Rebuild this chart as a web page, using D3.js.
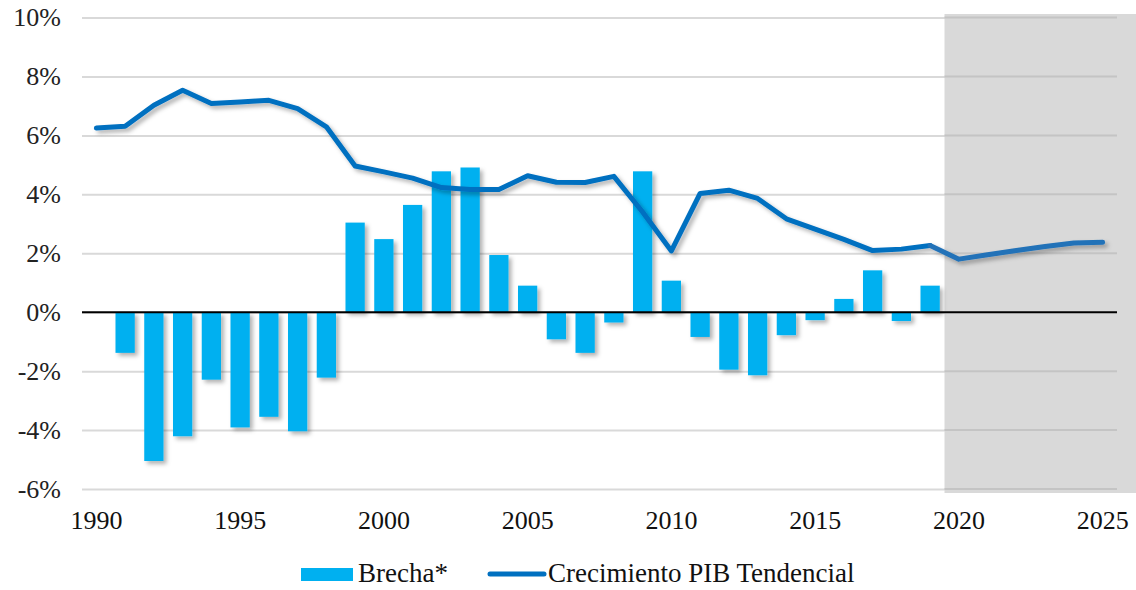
<!DOCTYPE html>
<html>
<head>
<meta charset="utf-8">
<script src="https://cdn.jsdelivr.net/npm/d3@7"></script>
<style>
  html, body { margin: 0; padding: 0; background: #fff; }
  svg { display: block; }
  svg text { font-family: "Liberation Serif", "Tinos", "Times New Roman", "DejaVu Serif", "Noto Serif", serif; }
</style>
</head>
<body>
<svg width="1136" height="590"></svg>
<script>
// years on the category axis
const years = d3.range(1990, 2026);
// Brecha* (bars), 1990..2019 (null = no bar)
const brecha = [null, -1.38, -5.05, -4.21, -2.29, -3.91, -3.55, -4.04, -2.22, 3.04,
  2.48, 3.64, 4.78, 4.91, 1.94, 0.90, -0.92, -1.38, -0.35, 4.78,
  1.07, -0.84, -1.95, -2.14, -0.78, -0.27, 0.45, 1.42, -0.30, 0.90];
// Crecimiento PIB Tendencial (line), 1990..2025
const tendencial = [6.25, 6.31, 7.02, 7.53, 7.08, 7.13, 7.19, 6.91, 6.29, 4.96,
  4.76, 4.55, 4.23, 4.16, 4.16, 4.63, 4.41, 4.40, 4.61, 3.40,
  2.08, 4.03, 4.14, 3.86, 3.17, 2.82, 2.47, 2.09, 2.14, 2.26,
  1.80, 1.95, 2.09, 2.23, 2.35, 2.37];
const yTicks = [-6, -4, -2, 0, 2, 4, 6, 8, 10];
const xLabels = [1990, 1995, 2000, 2005, 2010, 2015, 2020, 2025];
const forecastStart = 2020;

const svg = d3.select('svg');
const defs = svg.append('defs');
defs.append('filter')
    .attr('id', 'shadow')
    .attr('x', '-20%').attr('y', '-20%')
    .attr('width', '150%').attr('height', '150%')
  .append('feDropShadow')
    .attr('dx', 3).attr('dy', 3)
    .attr('stdDeviation', 2)
    .attr('flood-color', '#000')
    .attr('flood-opacity', 0.3);

const x = d3.scaleBand()
    .domain(years)
    .range([82, 1117])
    .paddingInner(0.33)
    .paddingOuter(0.165);
const xc = d => x(d) + x.bandwidth() / 2;
const step = x.step();

const y = d3.scaleLinear()
    .domain([-6, 10])
    .range([489, 17.5]);

// shaded forecast area
const gx0 = x(forecastStart) - x.paddingInner() * step / 2;
svg.append('rect')
    .attr('x', gx0)
    .attr('y', 14)
    .attr('width', 1136 - gx0)
    .attr('height', 493 - 14)
    .attr('fill', '#d9d9d9');

// gridlines
const grid = svg.append('g')
    .attr('transform', 'translate(82,0)')
    .call(d3.axisLeft(y).tickValues(yTicks).tickSize(-(1117 - 82)).tickFormat(''));
grid.select('.domain').remove();
grid.selectAll('.tick line')
    .attr('stroke', '#d9d9d9')
    .attr('stroke-width', 2);
// gridlines look darker over the shaded area
svg.append('g').selectAll('line')
  .data(yTicks.filter(d => d !== 0))
  .join('line')
    .attr('x1', gx0).attr('x2', 1117)
    .attr('y1', d => y(d)).attr('y2', d => y(d))
    .attr('stroke', '#c4c4c4')
    .attr('stroke-width', 2);

// y labels
const yAxis = svg.append('g')
    .attr('transform', 'translate(61,0)')
    .call(d3.axisLeft(y).tickValues(yTicks).tickSize(0).tickPadding(0).tickFormat(d => d + '%'));
yAxis.select('.domain').remove();
yAxis.attr('font-family', null).attr('font-size', 26);
yAxis.selectAll('text')
    .style('font-size', '26px')
    .attr('fill', '#222');

// bars
const barData = brecha.map((v, i) => ({ year: years[i], v })).filter(d => d.v !== null);
svg.append('g')
    .attr('filter', 'url(#shadow)')
  .selectAll('rect')
  .data(barData)
  .join('rect')
    .attr('x', d => x(d.year))
    .attr('width', x.bandwidth())
    .attr('y', d => y(Math.max(0, d.v)))
    .attr('height', d => Math.abs(y(d.v) - y(0)))
    .attr('fill', '#00b0f0');

// zero line
svg.append('line')
    .attr('x1', 82).attr('x2', 1117)
    .attr('y1', y(0)).attr('y2', y(0))
    .attr('stroke', '#000')
    .attr('stroke-width', 2);

// trend line
const lineData = tendencial.map((v, i) => ({ year: years[i], v }));
const line = d3.line().x(d => xc(d.year)).y(d => y(d.v));
const lineG = svg.append('g').attr('filter', 'url(#shadow)');
lineG.append('path')
    .datum(lineData.filter(d => d.year <= forecastStart - 1))
    .attr('d', line)
    .attr('fill', 'none')
    .attr('stroke', '#0070c0')
    .attr('stroke-width', 5)
    .attr('stroke-linejoin', 'round')
    .attr('stroke-linecap', 'round');
lineG.append('path')
    .datum(lineData.filter(d => d.year >= forecastStart - 1))
    .attr('d', line)
    .attr('fill', 'none')
    .attr('stroke', '#2272b8')
    .attr('stroke-width', 5)
    .attr('stroke-linejoin', 'round')
    .attr('stroke-linecap', 'round');

// x labels
const xAxis = svg.append('g')
    .attr('transform', 'translate(0,529)')
    .call(d3.axisBottom(x).tickValues(xLabels).tickSize(0).tickPadding(0));
xAxis.select('.domain').remove();
xAxis.attr('font-family', null).attr('font-size', 26);
xAxis.selectAll('text')
    .style('font-size', '26px')
    .attr('fill', '#111')
    .attr('y', 0)
    .attr('dy', 0);

// legend
const legend = svg.append('g').style('font-size', '27px').attr('fill', '#111');
legend.append('rect')
    .attr('x', 301).attr('y', 568)
    .attr('width', 52).attr('height', 13)
    .attr('fill', '#00b0f0');
legend.append('text')
    .attr('x', 358).attr('y', 582)
    .text('Brecha*');
legend.append('line')
    .attr('x1', 490).attr('x2', 544)
    .attr('y1', 574).attr('y2', 574)
    .attr('stroke', '#0070c0')
    .attr('stroke-width', 5)
    .attr('stroke-linecap', 'round');
legend.append('text')
    .attr('x', 548).attr('y', 582)
    .text('Crecimiento PIB Tendencial');
</script>
</body>
</html>
